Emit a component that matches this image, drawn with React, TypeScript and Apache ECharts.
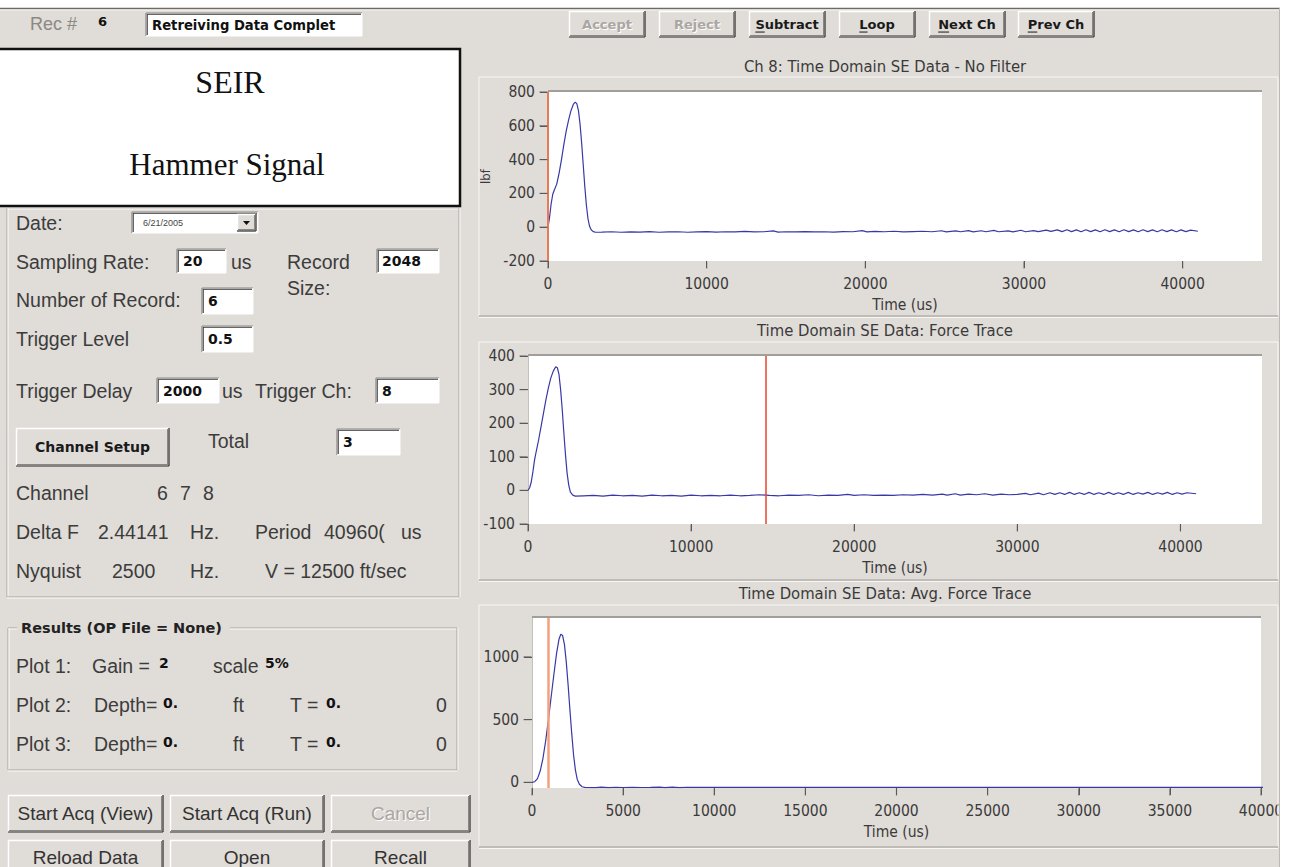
import React, { useEffect, useRef } from 'react';
import * as echarts from 'echarts';

// ---------------- DATA ----------------
// Ch 8: Time Domain SE Data - No Filter  [time (us), lbf]
const ch8Trace: [number, number][] = [
  [0, 0], [100, 60], [200, 140], [300, 195], [400, 220], [550, 255], [700, 320], [850, 400],
  [1000, 490], [1150, 570], [1300, 635], [1450, 690], [1600, 728], [1720, 740], [1820, 730],
  [1920, 690], [2020, 610], [2120, 500], [2220, 370], [2320, 240], [2420, 130], [2520, 50],
  [2620, 5], [2720, -15], [2850, -26], [3000, -30],
  [3400, -29], [4000, -27], [4600, -30], [5200, -28], [5800, -29], [6400, -26], [7000, -30],
  [7600, -28], [8200, -27], [8800, -30], [9400, -28], [10000, -26], [10600, -29], [11200, -27],
  [11800, -28], [12400, -25], [13000, -28], [13600, -27], [14200, -22], [14500, -29], [15000, -27],
  [15600, -28], [16200, -26], [16800, -28], [17400, -27], [18000, -29], [18600, -26], [19200, -27],
  [19800, -20], [20100, -28], [20600, -25], [21200, -27], [21800, -24], [22400, -28], [23000, -26],
  [23600, -24], [24200, -27], [24800, -21], [25100, -28], [25700, -22], [26000, -27], [26500, -20],
  [26800, -28], [27300, -21], [27600, -27], [28100, -19], [28400, -27], [29000, -22], [29300, -28],
  [29800, -18], [30100, -27], [30600, -20], [30900, -26], [31400, -17], [31700, -25], [32100, -16],
  [32400, -26], [32700, -15], [33000, -26], [33300, -16], [33600, -27], [33900, -15], [34200, -26],
  [34500, -16], [34800, -27], [35100, -15], [35400, -26], [35700, -16], [36000, -27], [36300, -15],
  [36600, -26], [36900, -16], [37200, -27], [37500, -15], [37800, -26], [38100, -16], [38400, -27],
  [38700, -15], [39000, -26], [39300, -16], [39600, -27], [39900, -16], [40200, -26], [40500, -17],
  [40960, -24],
];

// Time Domain SE Data: Force Trace
const forceTrace: [number, number][] = [
  [0, 0], [100, 8], [200, 25], [300, 55], [400, 90], [500, 115], [650, 150], [800, 190],
  [950, 230], [1100, 270], [1250, 305], [1400, 335], [1550, 355], [1700, 368], [1800, 365],
  [1900, 345], [2000, 300], [2100, 240], [2200, 170], [2300, 105], [2400, 50], [2500, 15],
  [2600, -5], [2750, -14], [2900, -17],
  [3400, -16], [4000, -15], [4600, -17], [5200, -14], [5800, -16], [6400, -15], [7000, -17],
  [7600, -14], [8200, -16], [8800, -15], [9400, -17], [10000, -14], [10600, -16], [11200, -15],
  [11800, -16], [12400, -14], [13000, -16], [13600, -15], [14200, -13], [14800, -15], [15400, -16],
  [16000, -14], [16600, -15], [17200, -13], [17800, -16], [18400, -14], [19000, -15], [19600, -12],
  [20000, -15], [20600, -13], [21200, -15], [21800, -14], [22400, -15], [23000, -13], [23600, -14],
  [24200, -12], [24800, -14], [25400, -11], [25700, -14], [26200, -10], [26500, -14], [27000, -11],
  [27500, -13], [28000, -10], [28500, -14], [29000, -11], [29500, -13], [30000, -12], [30500, -9],
  [30800, -13], [31300, -8], [31600, -13], [32000, -7], [32300, -12], [32600, -7], [32900, -12],
  [33200, -6], [33500, -12], [33800, -7], [34100, -12], [34400, -6], [34700, -12], [35000, -7],
  [35300, -12], [35600, -6], [35900, -12], [36200, -7], [36500, -12], [36800, -6], [37100, -12],
  [37400, -7], [37700, -11], [38000, -6], [38300, -12], [38600, -7], [38900, -11], [39200, -6],
  [39500, -12], [39800, -7], [40100, -11], [40400, -7], [40960, -10],
];

// Time Domain SE Data: Avg. Force Trace
const avgForceTrace: [number, number][] = [
  [0, 0], [150, 5], [300, 30], [450, 90], [600, 190], [750, 330], [900, 500], [1050, 680],
  [1200, 860], [1350, 1030], [1480, 1140], [1580, 1180], [1680, 1170], [1780, 1100], [1880, 960],
  [1980, 780], [2080, 580], [2180, 390], [2280, 220], [2380, 100], [2480, 25], [2600, -15],
  [2750, -35], [2900, -40],
  [3500, -42], [3800, -38], [4200, -42], [4600, -39], [5000, -41], [5500, -40], [6000, -41],
  [6500, -40], [7000, -38], [7300, -42], [7700, -38], [8100, -42], [8500, -39], [9000, -40],
  [11000, -40], [14000, -40], [17000, -40], [20000, -40], [23000, -40], [26000, -40], [29000, -40],
  [32000, -40], [35000, -40], [38000, -40], [40960, -40],
];

const ch8Cursor = 0;
const forceCursor = 14560;
const avgCursor = 900;

const ch8YTicks = [-200, 0, 200, 400, 600, 800];
const forceYTicks = [-100, 0, 100, 200, 300, 400];
const avgYTicks = [0, 500, 1000];
const timeTicks10k = [0, 10000, 20000, 30000, 40000];
const timeTicks5k = [0, 5000, 10000, 15000, 20000, 25000, 30000, 35000, 40000];

const chartTitles = [
  'Ch 8: Time Domain SE Data - No Filter',
  'Time Domain SE Data: Force Trace',
  'Time Domain SE Data: Avg. Force Trace',
];

// ---------------- STYLE ----------------
const BG = '#e0dcd8';
const SANS = '"Liberation Sans", Arial, Helvetica, sans-serif';
const BOLD = '"DejaVu Sans", Verdana, sans-serif';
const NARROW = '"Liberation Sans Narrow", "Arial Narrow", "DejaVu Sans Condensed", "Liberation Sans", sans-serif';
const SERIF = '"Liberation Serif", "Times New Roman", serif';
const TXT = '#3c3c3c';
const TICK = '#5a5a5a';

function txt(x: number, y: number, text: string, o: any = {}) {
  const align = o.align ?? 'left';
  return {
    type: 'text', x, y, silent: true, z: 12,
    style: {
      text, fill: o.fill ?? TXT, fontSize: o.size ?? 19.5, fontFamily: o.family ?? SANS,
      fontWeight: o.weight ?? 'normal', textAlign: align, align,
      textVerticalAlign: 'middle', verticalAlign: 'middle',
    },
  };
}
function rect(x: number, y: number, w: number, h: number, fill: string, stroke?: string, lw?: number) {
  return {
    type: 'rect', silent: true, z: 10, shape: { x, y, width: w, height: h },
    style: { fill, stroke: stroke ?? null, lineWidth: lw ?? 0 },
  };
}
function ln(x1: number, y1: number, x2: number, y2: number, stroke: string, w = 1) {
  return { type: 'line', silent: true, z: 11, shape: { x1, y1, x2, y2 }, style: { stroke, lineWidth: w } };
}
function raised(x: number, y: number, w: number, h: number) {
  return [
    rect(x, y, w, h, BG),
    ln(x, y + 0.5, x + w, y + 0.5, '#ffffff', 1.5), ln(x + 0.5, y, x + 0.5, y + h, '#ffffff', 1.5),
    ln(x + 1, y + h - 1.5, x + w - 1, y + h - 1.5, '#8a8682', 1), ln(x + w - 1.5, y + 1, x + w - 1.5, y + h - 1, '#8a8682', 1),
    ln(x, y + h, x + w, y + h, '#2a2a2a', 1.2), ln(x + w, y, x + w, y + h, '#2a2a2a', 1.2),
  ];
}
function sunken(x: number, y: number, w: number, h: number) {
  return [
    rect(x, y, w, h, '#ffffff'),
    ln(x, y, x + w, y, '#8a8682', 1.2), ln(x, y, x, y + h, '#8a8682', 1.2),
    ln(x + 1, y + 1.3, x + w - 1, y + 1.3, '#404040', 1), ln(x + 1.3, y + 1, x + 1.3, y + h - 1, '#404040', 1),
    ln(x, y + h, x + w, y + h, '#ffffff', 1), ln(x + w, y, x + w, y + h, '#ffffff', 1),
  ];
}
function etched(x1: number, y1: number, x2: number, y2: number, gap?: [number, number]) {
  const d = '#a6a29e', l = '#fbfaf9';
  const top = gap
    ? [ln(x1, y1, gap[0], y1, d), ln(gap[1], y1, x2, y1, d), ln(x1, y1 + 1, gap[0], y1 + 1, l), ln(gap[1], y1 + 1, x2, y1 + 1, l)]
    : [ln(x1, y1, x2, y1, d), ln(x1, y1 + 1, x2, y1 + 1, l)];
  return [
    ...top,
    ln(x1, y1, x1, y2, d), ln(x1 + 1, y1, x1 + 1, y2, l),
    ln(x1, y2, x2, y2, d), ln(x1, y2 + 1, x2, y2 + 1, l),
    ln(x2, y1, x2, y2, d), ln(x2 + 1, y1, x2 + 1, y2, l),
  ];
}
function measure(t: string, font: string) {
  const c = document.createElement('canvas').getContext('2d');
  if (!c) return t.length * 8;
  c.font = font;
  return c.measureText(t).width;
}
function button(x: number, y: number, w: number, h: number, label: string, o: any = {}) {
  const els: any[] = raised(x, y, w, h);
  const cx = x + w / 2, cy = y + h / 2;
  const size = o.size ?? 19;
  const family = o.family ?? SANS;
  const weight = o.weight ?? 'normal';
  if (o.disabled) {
    els.push(txt(cx + 1, cy + 1, label, { align: 'center', size, family, weight, fill: '#ffffff' }));
    els.push(txt(cx, cy, label, { align: 'center', size, family, weight, fill: '#aaa6a2' }));
  } else {
    els.push(txt(cx, cy, label, { align: 'center', size, family, weight, fill: o.fill ?? '#1a1a1a' }));
    if (o.underline) {
      const font = `${weight} ${size}px ${family}`;
      const tw = measure(label, font);
      const fw = measure(label[0], font);
      const sx = cx - tw / 2;
      els.push(ln(sx, cy + size * 0.62, sx + fw, cy + size * 0.62, '#1a1a1a', 1));
    }
  }
  return els;
}

function buildGraphic() {
  const g: any[] = [];
  const add = (...els: any[]) => { for (const e of els) { if (Array.isArray(e)) g.push(...e); else g.push(e); } };

  // page edges
  add(rect(0, 0, 1290, 8, '#ffffff'), rect(1280, 0, 10, 867, '#ffffff'));
  add(ln(0, 8.5, 1280, 8.5, '#6e6a66', 1.5), ln(0, 10, 1279, 10, '#f6f4f2', 1));
  add(ln(1279.5, 8, 1279.5, 867, '#bcb8b4', 1));

  // top strip
  add(txt(30, 24, 'Rec #', { fill: '#8c8884', size: 18 }));
  add(txt(98, 21, '6', { family: BOLD, weight: 'bold', size: 13, fill: '#111' }));
  add(sunken(146, 13, 216, 23));
  add(txt(152, 25, 'Retreiving Data Complet', { family: BOLD, weight: 'bold', size: 13.2, fill: '#111' }));

  const topBtns = [
    { x: 569, label: 'Accept', disabled: true },
    { x: 659, label: 'Reject', disabled: true },
    { x: 749, label: 'Subtract' },
    { x: 839, label: 'Loop' },
    { x: 929, label: 'Next Ch' },
    { x: 1018, label: 'Prev Ch' },
  ];
  for (const b of topBtns) {
    add(button(b.x, 11, 76, 26, b.label, { family: BOLD, weight: 'bold', size: 13, disabled: b.disabled, underline: !b.disabled }));
  }

  // SEIR box
  add(rect(-2, 49, 462, 157, '#ffffff', '#111111', 2.5));
  add(txt(230, 82, 'SEIR', { family: SERIF, size: 32, fill: '#111', align: 'center' }));
  add(txt(227, 164, 'Hammer Signal', { family: SERIF, size: 31, fill: '#111', align: 'center' }));

  // left settings group
  add(etched(7, 208, 459, 597));
  add(txt(16, 223, 'Date:'));
  add(sunken(132, 212, 126, 21));
  add(txt(143, 222.5, '6/21/2005', { size: 9, fill: '#444' }));
  add(raised(237, 214, 19, 17));
  add({ type: 'polygon', silent: true, z: 12, shape: { points: [[243, 221], [250, 221], [246.5, 225]] }, style: { fill: '#111' } });

  const boxFont = { family: BOLD, weight: 'bold', size: 14, fill: '#111' };
  add(txt(16, 262, 'Sampling Rate:'));
  add(sunken(177, 249, 49, 24), txt(183, 261, '20', boxFont));
  add(txt(231, 262, 'us'));
  add(txt(287, 262, 'Record'), txt(287, 288, 'Size:'));
  add(sunken(377, 249, 62, 24), txt(382, 261, '2048', boxFont));
  add(txt(16, 300, 'Number of Record:'));
  add(sunken(202, 288, 51, 26), txt(208, 301, '6', boxFont));
  add(txt(16, 339, 'Trigger Level'));
  add(sunken(202, 326, 51, 26), txt(208, 339, '0.5', boxFont));
  add(txt(16, 391, 'Trigger Delay'));
  add(sunken(157, 378, 62, 25), txt(163, 391, '2000', boxFont));
  add(txt(222, 391, 'us'), txt(255, 391, 'Trigger Ch:'));
  add(sunken(376, 378, 63, 25), txt(382, 391, '8', boxFont));
  add(button(16, 428, 153, 38, 'Channel Setup', { family: BOLD, weight: 'bold', size: 14 }));
  add(txt(208, 441, 'Total'));
  add(sunken(337, 429, 63, 26), txt(343, 442, '3', boxFont));
  add(txt(16, 493, 'Channel'), txt(157, 493, '6'), txt(180, 493, '7'), txt(203, 493, '8'));
  add(txt(16, 532, 'Delta F'), txt(98, 532, '2.44141'), txt(190, 532, 'Hz.'), txt(255, 532, 'Period'), txt(324, 532, '40960('), txt(401, 532, 'us'));
  add(txt(16, 571, 'Nyquist'), txt(112, 571, '2500'), txt(190, 571, 'Hz.'), txt(265, 571, 'V = 12500 ft/sec'));

  // results group
  add(etched(8, 628, 457, 770, [17, 230]));
  add(txt(21, 628, 'Results (OP File = None)', { family: BOLD, weight: 'bold', size: 14.5, fill: '#222' }));
  const small = { family: BOLD, weight: 'bold', size: 14, fill: '#111' };
  add(txt(16, 666, 'Plot 1:'), txt(92, 666, 'Gain ='), txt(159, 663, '2', small), txt(213, 666, 'scale'), txt(265, 663, '5%', small));
  for (const [i, y] of [[2, 705], [3, 744]]) {
    add(txt(16, y, `Plot ${i}:`), txt(94, y, 'Depth='), txt(163, y - 2, '0.', small), txt(233, y, 'ft'),
      txt(290, y, 'T ='), txt(326, y - 2, '0.', small), txt(436, y, '0'));
  }

  // bottom buttons
  add(button(8, 795, 155, 37, 'Start Acq (View)', { fill: '#333' }));
  add(button(170, 795, 154, 37, 'Start Acq (Run)', { fill: '#333' }));
  add(button(331, 795, 139, 37, 'Cancel', { disabled: true }));
  add(button(8, 840, 155, 35, 'Reload Data', { fill: '#333' }));
  add(button(170, 840, 154, 35, 'Open', { fill: '#333' }));
  add(button(331, 840, 139, 35, 'Recall', { fill: '#333' }));

  // chart frames + titles
  const frames = [[479, 77, 1278, 316], [479, 342, 1278, 580], [479, 605, 1278, 847]];
  const titleY = [66, 330, 593];
  frames.forEach((f, i) => {
    const [x1, y1, x2, y2] = f;
    add(ln(x1, y1, x2, y1, '#f8f7f5'), ln(x1, y1, x1, y2, '#f8f7f5'), ln(x2, y1, x2, y2, '#f8f7f5'),
      ln(x1, y2, x2, y2, '#b4b0ac', 1.5), ln(x1, y2 + 1.5, x2, y2 + 1.5, '#f8f7f5'));
    add(txt(885, titleY[i], chartTitles[i], { family: NARROW, size: 16.5, fill: '#3a3a3a', align: 'center' }));
  });
  // sunken top edge of plot areas
  add({ ...ln(548, 91, 1262, 91, '#a29e9a', 2), z: 30 });
  add({ ...ln(528, 355, 1262, 355, '#a29e9a', 2), z: 30 });
  add({ ...ln(532, 617, 1261, 617, '#a29e9a', 2), z: 30 });
  return g;
}

const axisFont = { fontFamily: NARROW, fontSize: 15.5, color: '#3a3a3a' };
const plain = (v: number) => String(v);

function xAx(gridIndex: number, max: number, ticks: number[], helperY: number) {
  return {
    type: 'value', gridIndex, min: 0, max, name: 'Time (us)', nameLocation: 'middle', nameGap: 36,
    nameTextStyle: { ...axisFont },
    axisLine: { show: true, onZero: true, onZeroAxisIndex: helperY, lineStyle: { color: 'rgba(255,255,255,0)', width: 1 } },
    splitLine: { show: false },
    axisTick: { show: true, length: 7, customValues: ticks, lineStyle: { color: TICK, width: 1 } },
    axisLabel: { show: true, customValues: ticks, formatter: plain, margin: 15, ...axisFont },
  };
}
function yAx(gridIndex: number, min: number, max: number, ticks: number[], name?: string) {
  return {
    type: 'value', gridIndex, min, max, name: name ?? '', nameLocation: 'middle', nameGap: 31, nameRotate: 90,
    nameTextStyle: { ...axisFont, fontSize: 13 },
    axisLine: { show: true, lineStyle: { color: '#c4c0bc', width: 1 } },
    splitLine: { show: false },
    axisTick: { show: true, length: 8, customValues: ticks, lineStyle: { color: TICK, width: 1 } },
    axisLabel: { show: true, customValues: ticks, formatter: plain, margin: 13, ...axisFont },
  };
}
function helperAxis(gridIndex: number) {
  return { type: 'value', gridIndex, min: 1, max: 2, show: false, splitLine: { show: false } };
}
function trace(i: number, data: [number, number][], cursor: number, cursorColor: string, cursorWidth: number) {
  return {
    type: 'line', xAxisIndex: i, yAxisIndex: i, data, showSymbol: false, symbol: 'none', clip: true, silent: true,
    lineStyle: { color: '#3838a6', width: 1.2 },
    markLine: {
      silent: true, symbol: ['none', 'none'], label: { show: false },
      lineStyle: { type: 'solid', color: cursorColor, width: cursorWidth },
      data: [{ xAxis: cursor }],
    },
  };
}
// tick marks placed through the axes' own scales (x ticks hang below the plot, y ticks stick out to the left)
function xTickMarks(i: number, ticks: number[], yMin: number) {
  return {
    type: 'scatter', xAxisIndex: i, yAxisIndex: i, silent: true, clip: false, z: 6,
    data: ticks.map((t) => [t, yMin]), symbol: 'rect', symbolSize: [1.2, 7], symbolOffset: [0, 4],
    itemStyle: { color: TICK }, emphasis: { disabled: true },
  };
}
function yTickMarks(i: number, ticks: number[]) {
  return {
    type: 'scatter', xAxisIndex: i, yAxisIndex: i, silent: true, clip: false, z: 6,
    data: ticks.map((v) => [0, v]), symbol: 'rect', symbolSize: [8, 1.2], symbolOffset: [-4.5, 0],
    itemStyle: { color: TICK }, emphasis: { disabled: true },
  };
}

function buildOption() {
  return {
    animation: false,
    backgroundColor: BG,
    grid: [
      { left: 548, top: 92, width: 714, height: 169, show: true, backgroundColor: '#ffffff', borderWidth: 0 },
      { left: 528, top: 356, width: 734, height: 168, show: true, backgroundColor: '#ffffff', borderWidth: 0 },
      { left: 532, top: 618, width: 729, height: 170, show: true, backgroundColor: '#ffffff', borderWidth: 0 },
    ],
    xAxis: [
      xAx(0, 45000, timeTicks10k, 3),
      xAx(1, 45000, timeTicks10k, 4),
      xAx(2, 40000, timeTicks5k, 5),
    ],
    yAxis: [
      yAx(0, -200, 800, ch8YTicks, 'lbf'),
      yAx(1, -100, 400, forceYTicks),
      yAx(2, -45, 1310, avgYTicks),
      helperAxis(0), helperAxis(1), helperAxis(2),
    ],
    series: [
      trace(0, ch8Trace, ch8Cursor, '#ea7a55', 2),
      trace(1, forceTrace, forceCursor, '#e8442a', 1.5),
      trace(2, avgForceTrace, avgCursor, '#f4a07e', 2.5),
      xTickMarks(0, timeTicks10k, -200), yTickMarks(0, ch8YTicks),
      xTickMarks(1, timeTicks10k, -100), yTickMarks(1, forceYTicks),
      xTickMarks(2, timeTicks5k, -45), yTickMarks(2, avgYTicks),
    ],
    graphic: { elements: buildGraphic() },
  };
}

export default function App() {
  const ref = useRef<HTMLDivElement>(null);
  useEffect(() => {
    if (!ref.current) return;
    const chart = echarts.init(ref.current, null, { renderer: 'svg' });
    chart.setOption(buildOption() as any);
    return () => chart.dispose();
  }, []);
  return <div ref={ref} style={{ position: 'absolute', left: 0, top: 0, width: 1290, height: 867 }} />;
}
